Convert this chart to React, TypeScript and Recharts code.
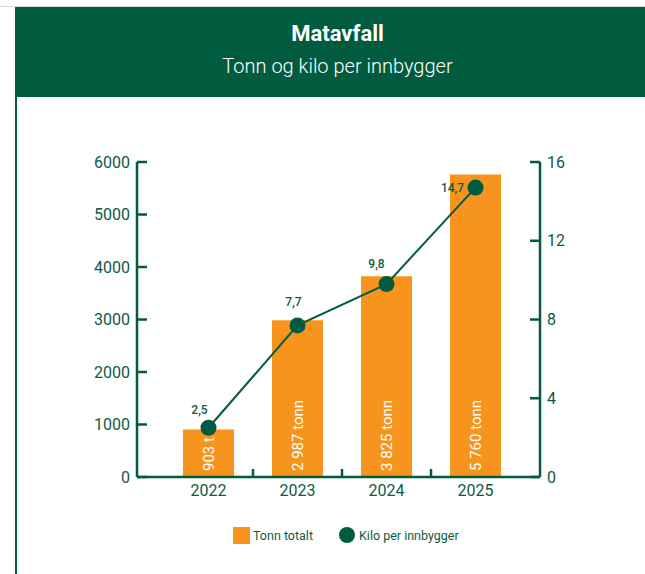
import {
  Bar,
  ComposedChart,
  LabelList,
  Legend,
  Line,
  XAxis,
  YAxis,
} from "recharts"

const years = ["2022", "2023", "2024", "2025"]
const tonnTotalt = [903, 2987, 3825, 5760]
const kiloPerInnbygger = [2.5, 7.7, 9.8, 14.7]
const barLabels = ["903 t", "2 987 tonn", "3 825 tonn", "5 760 tonn"]
const leftTicks = [0, 1000, 2000, 3000, 4000, 5000, 6000]
const rightTicks = [0, 4, 8, 12, 16]

const data = years.map((year, i) => ({
  year,
  tonn: tonnTotalt[i],
  kilo: kiloPerInnbygger[i],
  label: barLabels[i],
}))

const GREEN = "#005b3f"
const TEXT = "#0d5b3f"
const ORANGE = "#f7941d"
const FONT = "Roboto, 'Noto Sans', sans-serif"

const W = 645
const H = 574
const PAD_L = 27
const PAD_R = 20
const PLOT_W = 403
const HALF_BAND = (PLOT_W - PAD_L - PAD_R) / years.length / 2
const TICK_MARGIN_X = 7

// small nudges so the value labels sit like in the original
const kiloLabelNudge = [
  [-9, -14],
  [-4, -19],
  [-10, -16],
  [-23, 4],
]

const XTick = (props: any) => {
  const { x, y, payload, index } = props
  const axisY = y - TICK_MARGIN_X
  return (
    <g>
      {index > 0 && (
        <line
          x1={x - HALF_BAND}
          x2={x - HALF_BAND}
          y1={axisY}
          y2={axisY - 8}
          stroke={GREEN}
          strokeWidth={2.5}
        />
      )}
      <text x={x} y={y} dy={12} textAnchor="middle" fill={TEXT} fontSize={16} fontFamily={FONT}>
        {payload.value}
      </text>
    </g>
  )
}

const BarLabel = (props: any) => {
  const { x, y, width, height, value } = props
  const cx = x + width / 2
  const by = y + height - 6
  return (
    <text
      x={cx}
      y={by}
      transform={`rotate(-90 ${cx} ${by})`}
      textAnchor="start"
      dominantBaseline="central"
      fill="#fff"
      fontSize={15}
      fontFamily={FONT}
    >
      {value}
    </text>
  )
}

const KiloLabel = (props: any) => {
  const { x, y, value, index } = props
  const [dx, dy] = kiloLabelNudge[index] || [0, -14]
  return (
    <text
      x={x + dx}
      y={y + dy}
      textAnchor="middle"
      fill={TEXT}
      fontSize={12}
      fontWeight={500}
      fontFamily={FONT}
    >
      {String(value).replace(".", ",")}
    </text>
  )
}

const LegendContent = () => (
  <div
    style={{
      display: "flex",
      alignItems: "center",
      height: 18,
      fontSize: 12.5,
      color: TEXT,
      fontFamily: FONT,
    }}
  >
    <span style={{ width: 17, height: 17, background: ORANGE, marginRight: 3 }} />
    <span>Tonn totalt</span>
    <span
      style={{
        width: 16,
        height: 16,
        borderRadius: 8,
        background: GREEN,
        marginLeft: 26,
        marginRight: 4,
      }}
    />
    <span>Kilo per innbygger</span>
  </div>
)

export default function App() {
  return (
    <div
      style={{
        position: "absolute",
        left: 0,
        top: 0,
        width: W,
        height: H,
        overflow: "hidden",
        background: "#fff",
        fontFamily: FONT,
      }}
    >
      <div style={{ position: "absolute", left: 0, top: 6, width: W, height: 1, background: "#dcdcdc" }} />
      <div
        style={{
          position: "absolute",
          left: 15,
          top: 7,
          width: W,
          height: 90,
          background: GREEN,
          color: "#fff",
          textAlign: "center",
        }}
      >
        <div style={{ marginTop: 14, fontSize: 22, fontWeight: 700, lineHeight: "26px" }}>Matavfall</div>
        <div style={{ marginTop: 7, fontSize: 20, fontWeight: 300, lineHeight: "24px" }}>
          Tonn og kilo per innbygger
        </div>
      </div>
      <div style={{ position: "absolute", left: 15, top: 97, width: 2, height: H - 97, background: GREEN }} />

      <div style={{ position: "absolute", left: 0, top: 0 }}>
        <ComposedChart
          width={W}
          height={H}
          data={data}
          margin={{ top: 162, right: 45, bottom: 49, left: 77 }}
        >
          <XAxis
            dataKey="year"
            padding={{ left: PAD_L, right: PAD_R }}
            axisLine={{ stroke: GREEN, strokeWidth: 2.5 }}
            tickLine={false}
            tickSize={0}
            tickMargin={TICK_MARGIN_X}
            tick={<XTick />}
            height={30}
            interval={0}
          />
          <YAxis
            yAxisId="left"
            orientation="left"
            width={60}
            domain={[0, 6000]}
            ticks={leftTicks}
            interval={0}
            axisLine={{ stroke: GREEN, strokeWidth: 2.5 }}
            tickLine={{ stroke: GREEN, strokeWidth: 2.5 }}
            tickSize={-10}
            tickMargin={17}
            tick={{ fill: TEXT, fontSize: 16, fontFamily: FONT }}
          />
          <YAxis
            yAxisId="right"
            orientation="right"
            width={60}
            domain={[0, 16]}
            ticks={rightTicks}
            interval={0}
            axisLine={{ stroke: GREEN, strokeWidth: 2.5 }}
            tickLine={{ stroke: GREEN, strokeWidth: 2.5 }}
            tickSize={-10}
            tickMargin={17}
            tick={{ fill: TEXT, fontSize: 16, fontFamily: FONT }}
          />
          <Legend
            content={<LegendContent />}
            wrapperStyle={{ left: 233, top: 526, width: "auto" }}
          />
          <Bar
            yAxisId="left"
            dataKey="tonn"
            name="Tonn totalt"
            fill={ORANGE}
            barSize={51}
            isAnimationActive={false}
          >
            <LabelList dataKey="label" content={<BarLabel />} />
          </Bar>
          <Line
            yAxisId="right"
            dataKey="kilo"
            name="Kilo per innbygger"
            stroke={GREEN}
            strokeWidth={2}
            dot={{ r: 8, fill: GREEN, stroke: "none" }}
            activeDot={false}
            isAnimationActive={false}
          >
            <LabelList dataKey="kilo" content={<KiloLabel />} />
          </Line>
        </ComposedChart>
      </div>
    </div>
  )
}
